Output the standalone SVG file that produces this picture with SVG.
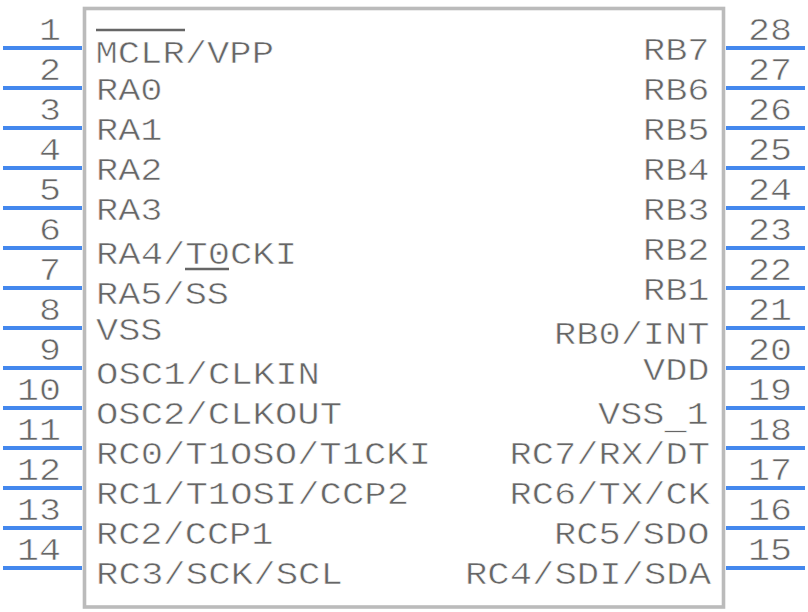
<svg xmlns="http://www.w3.org/2000/svg" width="808" height="612" viewBox="0 0 808 612">
<style>
text{font-family:"Liberation Mono",monospace;font-size:31px;fill:#666;stroke:#fff;stroke-width:.55px}
.p{stroke:#4488ee;stroke-width:4;fill:none}
.o{stroke:#666;stroke-width:2.5;fill:none}
</style>
<rect id="body" x="84.500" y="8.500" width="639" height="598.500" fill="#fff" stroke="#bbb" stroke-width="3.600"/>
<g id="connectors">
<path class="p" d="M3 48H82M3 88H82M3 128H82M3 168H82M3 208H82M3 248H82M3 288H82M3 328H82M3 368H82M3 408H82M3 448H82M3 488H82M3 528H82M3 568H82"/>
<path class="p" d="M726 48H805M726 88H805M726 128H805M726 168H805M726 208H805M726 248H805M726 288H805M726 328H805M726 368H805M726 408H805M726 448H805M726 488H805M726 528H805M726 568H805"/>
</g>
<g id="left-numbers">
<text x="39" y="40" textLength="22" lengthAdjust="spacingAndGlyphs">1</text>
<text x="39" y="80" textLength="22" lengthAdjust="spacingAndGlyphs">2</text>
<text x="39" y="120" textLength="22" lengthAdjust="spacingAndGlyphs">3</text>
<text x="39" y="160" textLength="22" lengthAdjust="spacingAndGlyphs">4</text>
<text x="39" y="200" textLength="22" lengthAdjust="spacingAndGlyphs">5</text>
<text x="39" y="240" textLength="22" lengthAdjust="spacingAndGlyphs">6</text>
<text x="39" y="280" textLength="22" lengthAdjust="spacingAndGlyphs">7</text>
<text x="39" y="320" textLength="22" lengthAdjust="spacingAndGlyphs">8</text>
<text x="39" y="360" textLength="22" lengthAdjust="spacingAndGlyphs">9</text>
<text x="17" y="400" textLength="44" lengthAdjust="spacingAndGlyphs">10</text>
<text x="17" y="440" textLength="44" lengthAdjust="spacingAndGlyphs">11</text>
<text x="17" y="480" textLength="44" lengthAdjust="spacingAndGlyphs">12</text>
<text x="17" y="520" textLength="44" lengthAdjust="spacingAndGlyphs">13</text>
<text x="17" y="560" textLength="44" lengthAdjust="spacingAndGlyphs">14</text>
</g>
<g id="right-numbers">
<text x="748" y="40" textLength="44" lengthAdjust="spacingAndGlyphs">28</text>
<text x="748" y="80" textLength="44" lengthAdjust="spacingAndGlyphs">27</text>
<text x="748" y="120" textLength="44" lengthAdjust="spacingAndGlyphs">26</text>
<text x="748" y="160" textLength="44" lengthAdjust="spacingAndGlyphs">25</text>
<text x="748" y="200" textLength="44" lengthAdjust="spacingAndGlyphs">24</text>
<text x="748" y="240" textLength="44" lengthAdjust="spacingAndGlyphs">23</text>
<text x="748" y="280" textLength="44" lengthAdjust="spacingAndGlyphs">22</text>
<text x="748" y="320" textLength="44" lengthAdjust="spacingAndGlyphs">21</text>
<text x="748" y="360" textLength="44" lengthAdjust="spacingAndGlyphs">20</text>
<text x="748" y="400" textLength="44" lengthAdjust="spacingAndGlyphs">19</text>
<text x="748" y="440" textLength="44" lengthAdjust="spacingAndGlyphs">18</text>
<text x="748" y="480" textLength="44" lengthAdjust="spacingAndGlyphs">17</text>
<text x="748" y="520" textLength="44" lengthAdjust="spacingAndGlyphs">16</text>
<text x="748" y="560" textLength="44" lengthAdjust="spacingAndGlyphs">15</text>
</g>
<g id="left-labels">
<text x="95.500" y="63" textLength="178.500" lengthAdjust="spacingAndGlyphs">MCLR/VPP</text>
<text x="96" y="100" textLength="66.500" lengthAdjust="spacingAndGlyphs">RA0</text>
<text x="96" y="140" textLength="66.500" lengthAdjust="spacingAndGlyphs">RA1</text>
<text x="96" y="180" textLength="66.500" lengthAdjust="spacingAndGlyphs">RA2</text>
<text x="96" y="220" textLength="66.500" lengthAdjust="spacingAndGlyphs">RA3</text>
<text x="96" y="264" textLength="201" lengthAdjust="spacingAndGlyphs">RA4/T0CKI</text>
<text x="96" y="304" textLength="133" lengthAdjust="spacingAndGlyphs">RA5/SS</text>
<text x="96" y="340" textLength="66.500" lengthAdjust="spacingAndGlyphs">VSS</text>
<text x="96" y="384" textLength="224" lengthAdjust="spacingAndGlyphs">OSC1/CLKIN</text>
<text x="96" y="424" textLength="246" lengthAdjust="spacingAndGlyphs">OSC2/CLKOUT</text>
<text x="96" y="464" textLength="335" lengthAdjust="spacingAndGlyphs">RC0/T1OSO/T1CKI</text>
<text x="96" y="504" textLength="313" lengthAdjust="spacingAndGlyphs">RC1/T1OSI/CCP2</text>
<text x="96" y="544" textLength="177.500" lengthAdjust="spacingAndGlyphs">RC2/CCP1</text>
<text x="96" y="584" textLength="247" lengthAdjust="spacingAndGlyphs">RC3/SCK/SCL</text>
<path class="o" d="M96 30H185M185 269H229"/>
</g>
<g id="right-labels">
<text x="643" y="60" textLength="66.500" lengthAdjust="spacingAndGlyphs">RB7</text>
<text x="643" y="100" textLength="66.500" lengthAdjust="spacingAndGlyphs">RB6</text>
<text x="643" y="140" textLength="66.500" lengthAdjust="spacingAndGlyphs">RB5</text>
<text x="643" y="180" textLength="66.500" lengthAdjust="spacingAndGlyphs">RB4</text>
<text x="643" y="220" textLength="66.500" lengthAdjust="spacingAndGlyphs">RB3</text>
<text x="643" y="260" textLength="66.500" lengthAdjust="spacingAndGlyphs">RB2</text>
<text x="643" y="300" textLength="66.500" lengthAdjust="spacingAndGlyphs">RB1</text>
<text x="554" y="344" textLength="155.500" lengthAdjust="spacingAndGlyphs">RB0/INT</text>
<text x="643" y="380" textLength="66.500" lengthAdjust="spacingAndGlyphs">VDD</text>
<text transform="translate(598 424) scale(1.19 1)">VSS<tspan dy="5">_</tspan><tspan dy="-5">1</tspan></text>
<text x="509.500" y="464" textLength="200.500" lengthAdjust="spacingAndGlyphs">RC7/RX/DT</text>
<text x="509.500" y="504" textLength="200.500" lengthAdjust="spacingAndGlyphs">RC6/TX/CK</text>
<text x="554" y="544" textLength="155.500" lengthAdjust="spacingAndGlyphs">RC5/SDO</text>
<text x="465" y="584" textLength="246" lengthAdjust="spacingAndGlyphs">RC4/SDI/SDA</text>
</g>
</svg>
